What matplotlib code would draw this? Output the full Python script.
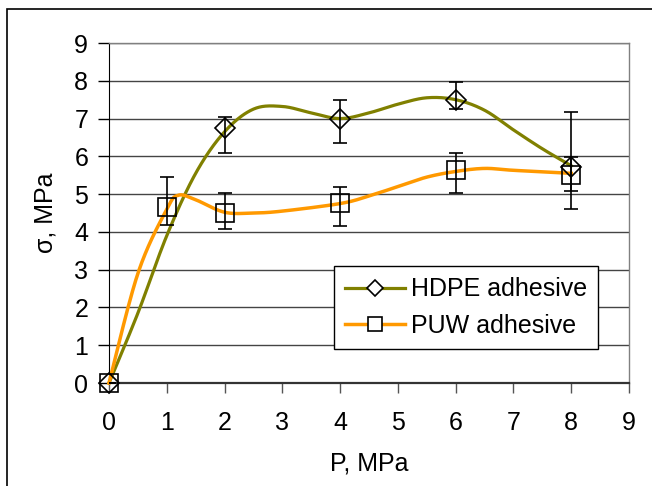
import numpy as np
import matplotlib
matplotlib.use("Agg")
import matplotlib.pyplot as plt
from matplotlib.lines import Line2D
from matplotlib.patches import Rectangle

# smoothed trend lines
hdpe_line_x = [0, 0.5, 1, 1.5, 2, 2.5, 3, 3.5, 4, 4.5, 5, 5.5, 6, 6.5, 7, 7.5, 8]
hdpe_line_y = [0, 1.85, 3.9, 5.55, 6.65, 7.25, 7.32, 7.15, 7.0, 7.15, 7.38, 7.55, 7.5, 7.22, 6.7, 6.2, 5.75]
puw_line_x = [0, 0.5, 1, 1.2, 1.5, 2, 2.5, 3, 4, 4.5, 5, 5.5, 6, 6.5, 7, 8]
puw_line_y = [0, 2.9, 4.6, 4.97, 4.85, 4.52, 4.5, 4.55, 4.75, 4.95, 5.2, 5.45, 5.6, 5.68, 5.63, 5.55]

# measured points with error bars
hdpe_x = [0, 2, 4, 6, 8]
hdpe_y = [0, 6.75, 7.0, 7.5, 5.72]
hdpe_lo = [0, 0.66, 0.65, 0.26, 1.12]
hdpe_hi = [0, 0.3, 0.49, 0.47, 1.46]
puw_x = [0, 1, 2, 4, 6, 8]
puw_y = [0, 4.66, 4.5, 4.76, 5.63, 5.5]
puw_lo = [0, 0.48, 0.43, 0.6, 0.6, 0.42]
puw_hi = [0, 0.79, 0.53, 0.43, 0.45, 0.48]

OLIVE = "#808000"
ORANGE = "#FF9900"
FS = 18

plt.rcParams["font.family"] = ["Liberation Sans", "DejaVu Sans"]


def smooth(x, y, n=30):
    """Excel-like smoothed line: Catmull-Rom style cubic Bezier through the points."""
    P = np.column_stack([x, y]).astype(float)
    out = [P[0]]
    t = np.linspace(0, 1, n)[1:, None]
    for i in range(len(P) - 1):
        p0 = P[max(i - 1, 0)]; p1 = P[i]; p2 = P[i + 1]; p3 = P[min(i + 2, len(P) - 1)]
        c1 = p1 + (p2 - p0) / 6
        c2 = p2 - (p3 - p1) / 6
        seg = (1 - t) ** 3 * p1 + 3 * (1 - t) ** 2 * t * c1 + 3 * (1 - t) * t ** 2 * c2 + t ** 3 * p2
        out.extend(seg)
    out = np.array(out)
    return out[:, 0], out[:, 1]


fig = plt.figure(figsize=(6.52, 4.86), dpi=100)
fig.patches.append(Rectangle((7 / 652, -0.1), 1.2, (1 - 9 / 486) + 0.1, transform=fig.transFigure,
                             fill=False, edgecolor="black", linewidth=1.2))
ax = fig.add_axes([109 / 652, 103 / 486, 520 / 652, 340 / 486])

ax.set_xlim(0, 9); ax.set_ylim(0, 9)
ax.set_xticks(range(10)); ax.set_yticks(range(10))
ax.grid(axis="y", color="#444444", linewidth=1.0)
ax.set_axisbelow(True)
for s in ("top", "right"):
    ax.spines[s].set_color("#808080"); ax.spines[s].set_linewidth(1.0)
ax.spines["left"].set_color("black"); ax.spines["bottom"].set_color("#333333")
ax.spines["bottom"].set_linewidth(1.6)
ax.tick_params(axis="x", direction="out", length=7, width=1, color="#555555", labelsize=FS, pad=13)
ax.tick_params(axis="y", direction="out", length=8, width=1, labelsize=FS, pad=7)

hx, hy = smooth(hdpe_line_x, hdpe_line_y)
px, py = smooth(puw_line_x, puw_line_y)
ax.plot(hx, hy, color=OLIVE, linewidth=2.3, zorder=3, clip_on=False)
ax.plot(px, py, color=ORANGE, linewidth=2.5, zorder=3, clip_on=False)

ax.errorbar(hdpe_x, hdpe_y, yerr=[hdpe_lo, hdpe_hi], fmt="none", ecolor="black",
            elinewidth=1.2, capsize=5, capthick=1.2, zorder=4)
ax.errorbar(puw_x, puw_y, yerr=[puw_lo, puw_hi], fmt="none", ecolor="black",
            elinewidth=1.2, capsize=5, capthick=1.2, zorder=4)
ax.plot(hdpe_x, hdpe_y, linestyle="none", marker="D", markersize=10, markerfacecolor="none",
        markeredgecolor="black", markeredgewidth=1.2, zorder=5, clip_on=False)
ax.plot(puw_x, puw_y, linestyle="none", marker="s", markersize=13, markerfacecolor="none",
        markeredgecolor="black", markeredgewidth=1.2, zorder=5, clip_on=False)

ax.set_xlabel("P, MPa", fontsize=FS, labelpad=12)
ax.set_ylabel("σ, MPa", fontsize=FS, labelpad=12)

handles = [Line2D([], [], color=OLIVE, linewidth=2.3, marker="D", markersize=8,
                  markerfacecolor="white", markeredgecolor="black", markeredgewidth=1.2),
           Line2D([], [], color=ORANGE, linewidth=2.5, marker="s", markersize=10,
                  markerfacecolor="white", markeredgecolor="black", markeredgewidth=1.2)]
leg = ax.legend(handles, ["HDPE adhesive", "PUW adhesive"], loc="center",
                bbox_to_anchor=(0.427, 0.106, 0.519, 0.232), fontsize=FS, frameon=True,
                fancybox=False, framealpha=1, edgecolor="black", handlelength=2.4,
                handletextpad=0.25, borderpad=0.45, borderaxespad=0, labelspacing=0.5)
leg.get_frame().set_linewidth(1.0)
leg.set_zorder(6)

fig.savefig("out.png", dpi=100)
